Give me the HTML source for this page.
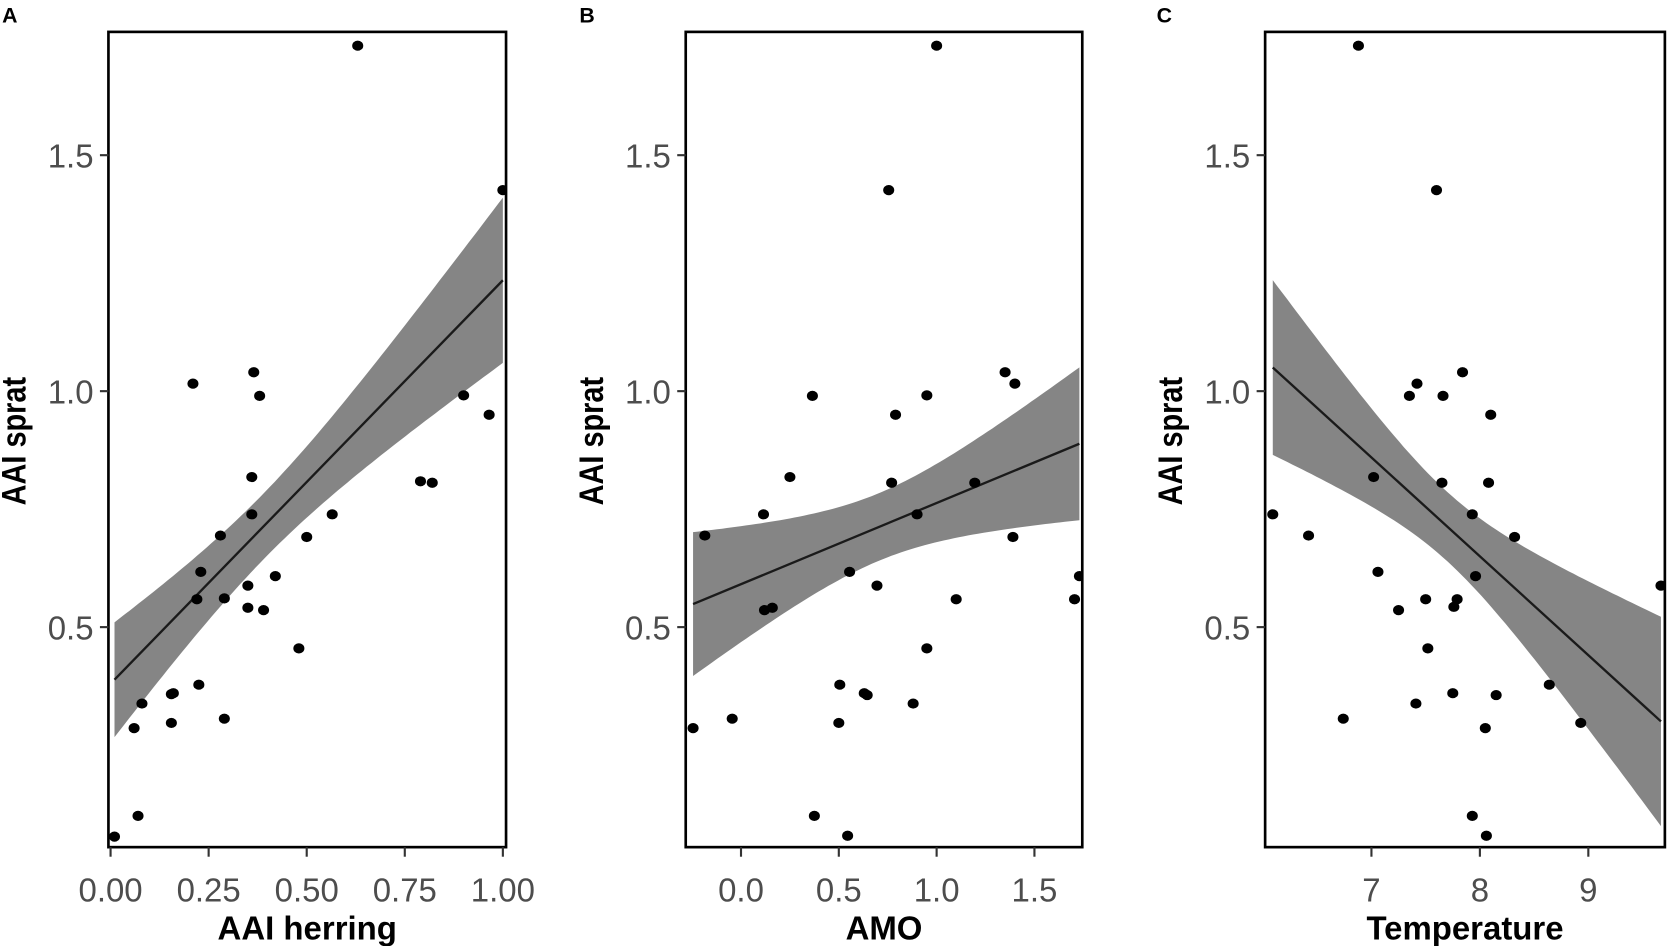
<!DOCTYPE html>
<html><head><meta charset="utf-8"><style>
html,body{margin:0;padding:0;background:#fff;width:1667px;height:946px;overflow:hidden}
svg{display:block}
</style></head><body>
<svg id="fig" width="1667" height="946" viewBox="0 0 1568 890" preserveAspectRatio="none" xmlns="http://www.w3.org/2000/svg" font-family="'Liberation Sans', Arial, sans-serif"></svg>
<script>
// Shared response values (AAI sprat)
const herringX = [0.01,0.07,0.06,0.08,0.155,0.16,0.155,0.225,0.29,0.21,0.365,0.38,0.36,0.36,0.28,0.23,0.22,0.29,0.35,0.35,0.39,0.42,0.48,0.5,0.565,0.63,0.79,0.82,0.9,0.965,1.0];
const herringY = [0.056,0.10,0.286,0.338,0.358,0.36,0.297,0.378,0.306,1.016,1.04,0.99,0.818,0.739,0.694,0.617,0.559,0.561,0.588,0.541,0.536,0.608,0.455,0.691,0.739,1.732,0.809,0.806,0.991,0.95,1.426];
const amoX = [-0.245,-0.185,-0.045,0.115,0.12,0.16,0.25,0.365,0.375,0.505,0.5,0.545,0.555,0.63,0.645,0.695,0.755,0.77,0.79,0.88,0.9,0.95,0.95,1.0,1.1,1.195,1.35,1.4,1.39,1.705,1.73];
const amoY = [0.286,0.694,0.306,0.739,0.536,0.541,0.818,0.99,0.10,0.378,0.297,0.058,0.617,0.36,0.356,0.588,1.426,0.806,0.95,0.338,0.739,0.991,0.455,1.732,0.559,0.806,1.04,1.016,0.691,0.559,0.608];
const tempX = [6.09,6.42,6.74,6.88,7.02,7.06,7.25,7.35,7.42,7.41,7.5,7.52,7.6,7.66,7.65,7.75,7.76,7.79,7.84,7.93,7.96,7.93,8.05,8.06,8.08,8.1,8.15,8.32,8.64,8.93,9.67];
const tempY = [0.739,0.694,0.306,1.732,0.818,0.617,0.536,0.99,1.016,0.338,0.559,0.455,1.426,0.99,0.806,0.36,0.543,0.559,1.04,0.739,0.608,0.10,0.286,0.058,0.806,0.95,0.356,0.691,0.378,0.297,0.588];
// Fitted model parameters (intercept, slope, residual SD) per panel A, B, C
const fitIntercept = [0.38, 0.591, 2.326];
const fitSlope = [0.855, 0.172, -0.2095];
const residualSD = [0.19, 0.195, 0.2];
const yTicks = [0.5,1.0,1.5];
const yTickLabels = ["0.5","1.0","1.5"];
const herringTicks = [0,0.25,0.5,0.75,1.0];
const herringTickLabels = ["0.00","0.25","0.50","0.75","1.00"];
const amoTicks = [0,0.5,1.0,1.5];
const amoTickLabels = ["0.0","0.5","1.0","1.5"];
const tempTicks = [7,8,9];
const tempTickLabels = ["7","8","9"];

const NS="http://www.w3.org/2000/svg";
const svg=document.getElementById('fig');
function mk(tag,attrs,parent){const e=document.createElementNS(NS,tag);for(const k in attrs)e.setAttribute(k,attrs[k]);(parent||svg).appendChild(e);return e;}

const Y0=30,Y1=797;
function yScale(v){return 590-(v-0.5)*444;}

const panels=[
 {id:'a',letter:'A',lx:2,left:102,right:476,xs:herringX,ys:herringY,x0:104,x1:473,d0:0,d1:1,ticks:herringTicks,labels:herringTickLabels,title:'AAI herring',ytitleX:24},
 {id:'b',letter:'B',lx:545,left:645,right:1018,xs:amoX,ys:amoY,x0:697,x1:973,d0:0,d1:1.5,ticks:amoTicks,labels:amoTickLabels,title:'AMO',ytitleX:567},
 {id:'c',letter:'C',lx:1088,left:1190,right:1566,xs:tempX,ys:tempY,x0:1290,x1:1494,d0:7,d1:9,ticks:tempTicks,labels:tempTickLabels,title:'Temperature',ytitleX:1112}
];

panels.forEach((p,pi)=>{
  const xScale=v=>p.x0+(v-p.d0)*(p.x1-p.x0)/(p.d1-p.d0);
  const g=mk('g',{});
  
  
  const clip=mk('clipPath',{id:'clip-'+p.id},g);
  mk('rect',{x:p.left,y:Y0,width:p.right-p.left,height:Y1-Y0},clip);

  const xs=p.xs,n=xs.length;
  const mx=xs.reduce((a,b)=>a+b,0)/n;
  let sxx=0;for(let i=0;i<n;i++){sxx+=(xs[i]-mx)**2;}
  const a=fitIntercept[pi],b=fitSlope[pi],s=residualSD[pi],t=2.045;
  const xmin=Math.min(...xs),xmax=Math.max(...xs);
  const up=[],lo=[];
  for(let k=0;k<=80;k++){const x=xmin+(xmax-xmin)*k/80;const f=a+b*x;const se=s*Math.sqrt(1/n+(x-mx)**2/sxx);
    up.push(xScale(x).toFixed(1)+','+yScale(f+t*se).toFixed(1));lo.unshift(xScale(x).toFixed(1)+','+yScale(f-t*se).toFixed(1));}
  const band=mk('polygon',{points:up.concat(lo).join(' '),fill:'#858585','clip-path':'url(#clip-'+p.id+')'},g);
  
  
  const line=mk('line',{x1:xScale(xmin),y1:yScale(a+b*xmin),x2:xScale(xmax),y2:yScale(a+b*xmax),stroke:'#1a1a1a','stroke-width':2.2,'clip-path':'url(#clip-'+p.id+')'},g);
  
  

  for(let i=0;i<n;i++){
    const c=mk('ellipse',{cx:xScale(xs[i]),cy:yScale(p.ys[i]),rx:5.2,ry:4.8,fill:'#000','clip-path':'url(#clip-'+p.id+')'},g);
    
    
  }
  const frame=mk('rect',{x:p.left,y:Y0,width:p.right-p.left,height:Y1-Y0,fill:'none',stroke:'#000','stroke-width':2.5},g);
  
  

  yTicks.forEach((v,i)=>{
    mk('line',{x1:p.left-8,x2:p.left,y1:yScale(v),y2:yScale(v),stroke:'#333','stroke-width':2},g);
    const tl=mk('text',{x:p.left-14,y:yScale(v)+11.5,'text-anchor':'end','font-size':31,fill:'#4d4d4d'},g);
    tl.textContent=yTickLabels[i];
    
    
  });
  p.ticks.forEach((v,i)=>{
    const x=xScale(v);
    mk('line',{x1:x,x2:x,y1:Y1,y2:Y1+9,stroke:'#333','stroke-width':2},g);
    const tl=mk('text',{x:x,y:848,'text-anchor':'middle','font-size':31,fill:'#4d4d4d'},g);
    tl.textContent=p.labels[i];
    
    
  });
  const xt=mk('text',{x:(p.left+p.right)/2,y:884,'text-anchor':'middle','font-size':31,'font-weight':'bold',fill:'#000'},g);
  xt.textContent=p.title;
  
  
  const yt=mk('text',{x:0,y:0,'text-anchor':'middle','font-size':32,'font-weight':'bold',fill:'#000',transform:'translate('+p.ytitleX+',415) rotate(-90) scale(0.85,1)'},g);
  yt.textContent='AAI sprat';
  
  
  const lt=mk('text',{x:p.lx,y:21,'font-size':20,'font-weight':'bold',fill:'#000'},g);
  lt.textContent=p.letter;
  
  
});
</script>
</body></html>
